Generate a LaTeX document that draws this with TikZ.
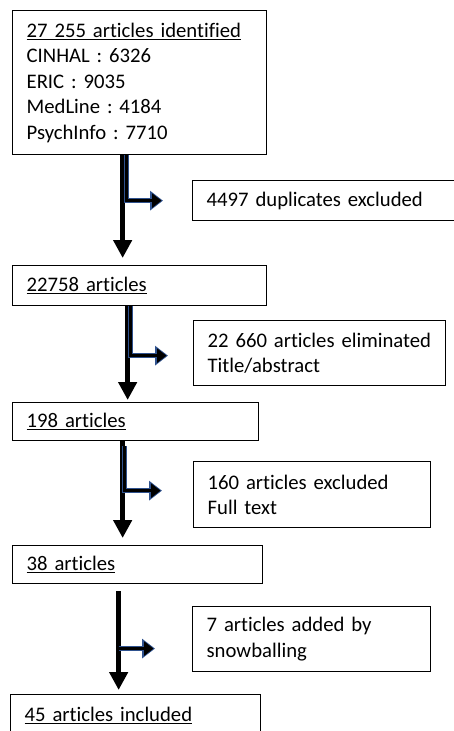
\documentclass[tikz,border=0pt]{standalone}
\usepackage{fontspec}
\setmainfont{Carlito}[Ligatures=NoCommon, WordSpace=0.9]
\frenchspacing
\usetikzlibrary{arrows.meta}
\definecolor{edgeblue}{RGB}{47,82,143}

\begin{document}
\begin{tikzpicture}[x=1pt, y=-1pt,
  box/.style={draw, line width=1.3pt, anchor=north west, align=left,
    inner xsep=14pt, inner ysep=0pt, font=\fontsize{20.7}{25.5}\selectfont},
  mainarrow/.style={line width=5.5pt, -{Triangle[width=18pt,length=18pt]}},
  bentarrow/.style={line width=2.5pt, -{Triangle[width=14pt,length=9.5pt,sep=1.5pt]},
    preaction={draw=edgeblue, line width=5pt, -{Triangle[width=19pt,length=13pt]}}}]
  \useasboundingbox (0,0) rectangle (454,731);
  % Left column
  \node[box, text width=226pt, minimum height=144pt] (ident) at (12,10)
    {\underline{27 255 articles identified}\\CINHAL : 6326\\ERIC : 9035\\MedLine : 4184\\PsychInfo : 7710};
  \node[box, text width=226pt, minimum height=40pt] (screen) at (12,265) {\underline{22758 articles}};
  \node[box, text width=218pt, minimum height=38pt] (fulltext) at (12,402) {\underline{198 articles}};
  \node[box, text width=222pt, minimum height=38pt] (eligible) at (12,545) {\underline{38 articles}};
  \node[box, text width=222pt, minimum height=42pt] (incl) at (10,694) {\underline{45 articles included}};
  % Right column
  \node[box, text width=242pt, minimum height=40pt] (dupl) at (192,180) {4497 duplicates excluded};
  \node[box, text width=224pt, minimum height=65pt] (elim) at (193,320) {22 660 articles eliminated\\Title/abstract};
  \node[box, text width=209pt, minimum height=66pt] (excl) at (193,461) {160 articles excluded\\Full text};
  \node[box, text width=210pt, minimum height=65pt] (snowball) at (192,606) {7 articles added by\\snowballing};
  % Main flow
  \draw[mainarrow, shorten >=7pt] ([xshift=-17pt]ident.south) -- ([xshift=-17pt]screen.north);
  \draw[mainarrow, shorten >=2pt] ([xshift=-12pt]screen.south) -- ([xshift=-8pt]fulltext.north);
  \draw[mainarrow, shorten >=7pt] ([xshift=-13pt]fulltext.south) -- ([xshift=-15pt]eligible.north);
  \draw[mainarrow, shorten <=7pt, shorten >=4pt] ([xshift=-19pt]eligible.south)
    -- coordinate[pos=0.586] (snowfork) ([xshift=-17pt]incl.north);
  % Side branches
  \draw[bentarrow, shorten >=29pt] ([xshift=-13pt]ident.south) |- (dupl.west);
  \draw[bentarrow, shorten >=25pt] ([xshift=-9pt]screen.south) |- ([yshift=-2.5pt]elim.west);
  \draw[bentarrow, shorten <=5pt, shorten >=31pt] ([xshift=-11pt]fulltext.south) |- ([yshift=4pt]excl.west);
  \draw[bentarrow, shorten >=37pt] (snowfork) -- (snowfork -| snowball.west);
\end{tikzpicture}
\end{document}
